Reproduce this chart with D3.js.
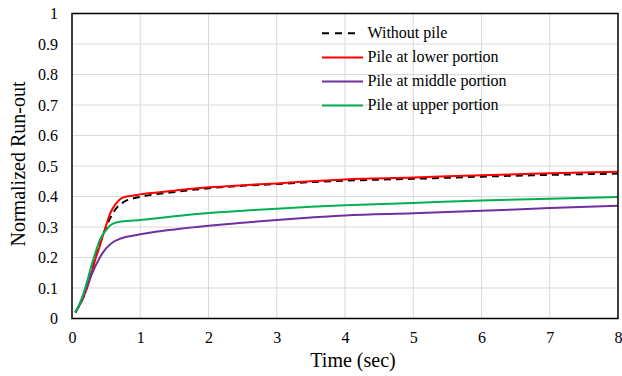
<!DOCTYPE html>
<html>
<head>
<meta charset="utf-8">
<script src="https://cdn.jsdelivr.net/npm/d3@7"></script>
<style>
  body { margin: 0; background: #fff; }
</style>
</head>
<body>
<div id="chart"></div>
<script>
// temps (s)
const time = [0.05, 0.1, 0.15, 0.2, 0.25, 0.3, 0.35, 0.4, 0.45, 0.5, 0.55, 0.6, 0.65, 0.7, 0.75, 0.8, 0.9, 1, 1.25, 1.5, 2, 2.5, 3, 3.5, 4, 5, 6, 7, 8];

const withoutPile = [0.02, 0.04, 0.062, 0.09, 0.125, 0.165, 0.205, 0.24, 0.27, 0.3, 0.325, 0.345, 0.362, 0.373, 0.381, 0.387, 0.394, 0.399, 0.408, 0.415, 0.427, 0.435, 0.441, 0.447, 0.452, 0.458, 0.465, 0.471, 0.475];
const pileLower = [0.02, 0.04, 0.06, 0.088, 0.12, 0.16, 0.2, 0.232, 0.27, 0.305, 0.34, 0.362, 0.378, 0.39, 0.397, 0.4, 0.403, 0.407, 0.413, 0.419, 0.43, 0.437, 0.443, 0.45, 0.456, 0.462, 0.47, 0.476, 0.481];
const pileMiddle = [0.02, 0.04, 0.065, 0.095, 0.125, 0.15, 0.175, 0.197, 0.215, 0.23, 0.241, 0.25, 0.256, 0.261, 0.265, 0.268, 0.272, 0.276, 0.285, 0.292, 0.304, 0.314, 0.323, 0.331, 0.338, 0.345, 0.353, 0.362, 0.37];
const pileUpper = [0.02, 0.042, 0.07, 0.105, 0.145, 0.185, 0.22, 0.253, 0.275, 0.29, 0.303, 0.311, 0.315, 0.317, 0.319, 0.32, 0.321, 0.323, 0.329, 0.335, 0.346, 0.353, 0.36, 0.366, 0.371, 0.379, 0.387, 0.393, 0.398];

const seriesNames = ['Without pile', 'Pile at lower portion', 'Pile at middle portion', 'Pile at upper portion'];
const seriesColors = ['#000000', '#ff0000', '#7030a0', '#00b050'];
const seriesValues = [withoutPile, pileLower, pileMiddle, pileUpper];

const xTicks = [0, 1, 2, 3, 4, 5, 6, 7, 8];
const yTicks = [0, 0.1, 0.2, 0.3, 0.4, 0.5, 0.6, 0.7, 0.8, 0.9, 1];

const serif = 'Liberation Serif';

let width = 622;
let height = 376;
let margin = { top: 13.5, right: 4, bottom: 57.5, left: 72 };

let svg = d3.select('#chart')
    .append('svg')
    .attr('width', width)
    .attr('height', height);

let x = d3.scaleLinear().domain([0, 8]).range([margin.left, width - margin.right]);
let y = d3.scaleLinear().domain([0, 1]).range([height - margin.bottom, margin.top]);

// grille
svg.append('g')
    .selectAll('line')
    .data(xTicks.slice(1, -1))
    .enter().append('line')
    .attr('x1', d => x(d)).attr('x2', d => x(d))
    .attr('y1', y(0)).attr('y2', y(1))
    .attr('stroke', '#d9d9d9').attr('stroke-width', 1);

svg.append('g')
    .selectAll('line')
    .data(yTicks.slice(1, -1))
    .enter().append('line')
    .attr('x1', x(0)).attr('x2', x(8))
    .attr('y1', d => y(d)).attr('y2', d => y(d))
    .attr('stroke', '#d9d9d9').attr('stroke-width', 1);

// axes (labels seulement)
let xAxis = svg.append('g')
    .attr('transform', `translate(0,${y(0)})`)
    .call(d3.axisBottom(x).tickValues(xTicks).tickSize(0).tickPadding(13).tickFormat(d3.format('d')));
xAxis.select('.domain').remove();
xAxis.selectAll('text').attr('font-family', serif).attr('font-size', 16).attr('fill', '#000');

let yAxis = svg.append('g')
    .attr('transform', `translate(${x(0)},0)`)
    .call(d3.axisLeft(y).tickValues(yTicks).tickSize(0).tickPadding(14).tickFormat(d => d === 0 || d === 1 ? d3.format('d')(d) : d3.format('.1f')(d)));
yAxis.select('.domain').remove();
yAxis.selectAll('text').attr('font-family', serif).attr('font-size', 16).attr('fill', '#000');

// courbes
let line = d3.line()
    .x((d, i) => x(time[i]))
    .y(d => y(d))
    .curve(d3.curveMonotoneX);

seriesValues.forEach((vals, k) => {
    svg.append('path')
        .datum(vals)
        .attr('d', line)
        .attr('fill', 'none')
        .attr('stroke', seriesColors[k])
        .attr('stroke-width', 2)
        .attr('stroke-dasharray', k === 0 ? '7,5' : null);
});

// cadre
svg.append('rect')
    .attr('x', x(0)).attr('y', y(1))
    .attr('width', x(8) - x(0)).attr('height', y(0) - y(1))
    .attr('fill', 'none').attr('stroke', '#000').attr('stroke-width', 1.5);

// légende
let legend = svg.append('g');
seriesNames.forEach((name, k) => {
    let ly = 33.3 + k * 24.1;
    legend.append('line')
        .attr('x1', 322).attr('x2', k === 0 ? 356 : 363)
        .attr('y1', ly).attr('y2', ly)
        .attr('stroke', seriesColors[k]).attr('stroke-width', 2)
        .attr('stroke-dasharray', k === 0 ? '7,6' : null);
    legend.append('text')
        .attr('x', 367.5).attr('y', ly + 4.5)
        .attr('font-family', serif)
        .attr('font-size', 16)
        .text(name);
});

// titres
svg.append('text')
    .attr('x', 353).attr('y', 367)
    .attr('text-anchor', 'middle')
    .attr('font-family', serif)
    .attr('font-size', 20)
    .text('Time (sec)');

svg.append('text')
    .attr('transform', 'translate(25,164) rotate(-90)')
    .attr('text-anchor', 'middle')
    .attr('font-family', serif)
    .attr('font-size', 20)
    .text('Normalized Run-out');
</script>
</body>
</html>
